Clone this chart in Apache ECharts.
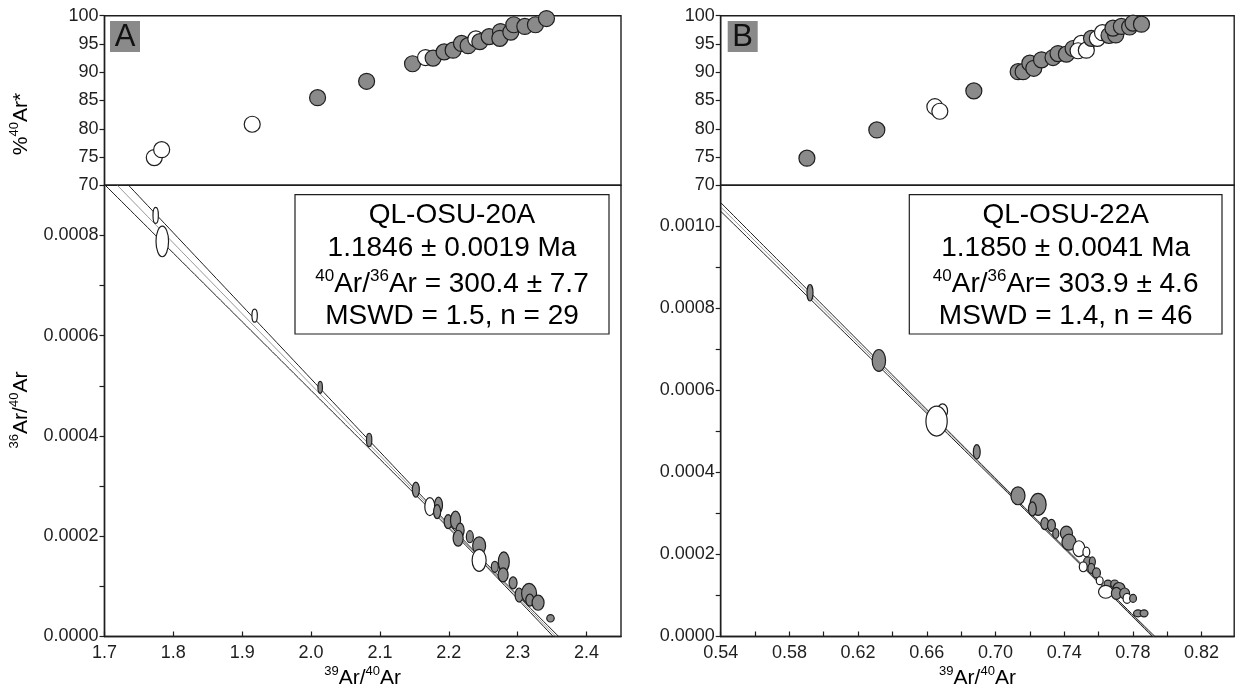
<!DOCTYPE html>
<html>
<head>
<meta charset="utf-8">
<script src="https://cdn.jsdelivr.net/npm/echarts@6/dist/echarts.min.js"></script>
<style>
  html, body { margin: 0; padding: 0; background: #fff; }
  #chart { width: 1237px; height: 690px; }
</style>
</head>
<body>
<div id="chart"></div>
<script>
// ---------- QL-OSU-20A (panel A) ----------
// step data: 39Ar/40Ar vs %40Ar* (1 = accepted step, grey; 0 = excluded, white)
const aStepX = [1.7723, 1.7830, 1.9145, 2.0094, 2.0806, 2.1473, 2.1662, 2.1772, 2.1932, 2.2062, 2.2184,
                2.2280, 2.2392, 2.2450, 2.2585, 2.2750, 2.2740, 2.2900, 2.2943, 2.3103, 2.3258, 2.3418];
const aStepPct = [74.9, 76.3, 80.8, 85.5, 88.4, 91.5, 92.6, 92.5, 93.6, 93.9, 95.1,
                  94.7, 95.9, 95.4, 96.3, 97.2, 96.0, 97.1, 98.4, 98.1, 98.4, 99.5];
const aStepUsed = [0, 0, 0, 1, 1, 1, 0, 1, 1, 1, 1, 1, 0, 1, 1, 1, 1, 1, 1, 1, 1, 1];

// inverse isochron: 39Ar/40Ar, 36Ar/40Ar and their error half-widths
const aIsoX = [1.7743, 1.7839, 1.9180, 2.0132, 2.0843, 2.1521, 2.1724, 2.1850, 2.1830, 2.1990, 2.2097, 2.2164,
               2.2135, 2.2305, 2.2440, 2.2440, 2.2668, 2.2798, 2.2788, 2.2933, 2.3020, 2.3165, 2.3176, 2.3296, 2.3476];
const aIsoY = [0.000840, 0.000788, 0.000640, 0.000497, 0.000392, 0.000293, 0.000259, 0.000262, 0.000249, 0.000229,
               0.000232, 0.000212, 0.000196, 0.000199, 0.000181, 0.000152, 0.000139, 0.000149, 0.000123, 0.000107,
               0.0000827, 0.0000861, 0.0000727, 0.0000674, 0.0000363];
const aIsoEx = [0.0039, 0.0091, 0.0039, 0.0033, 0.0039, 0.0051, 0.0073, 0.0058, 0.0051, 0.0058, 0.0073, 0.0058,
                0.0073, 0.0051, 0.0094, 0.0102, 0.0051, 0.0080, 0.0073, 0.0058, 0.0058, 0.0109, 0.0058, 0.0087, 0.0054];
const aIsoEy = [0.0000159, 0.0000305, 0.0000130, 0.0000120, 0.0000134, 0.0000150, 0.0000179, 0.0000159, 0.0000140,
                0.0000140, 0.0000179, 0.0000140, 0.0000159, 0.0000120, 0.0000179, 0.0000219, 0.0000110, 0.0000199,
                0.0000140, 0.0000120, 0.0000140, 0.0000199, 0.0000120, 0.0000150, 0.0000074];
const aIsoUsed = [0, 0, 0, 1, 1, 1, 0, 1, 1, 1, 1, 1, 1, 1, 1, 0, 1, 1, 1, 1, 1, 1, 1, 1, 1];

// isochron fit: trapped 40Ar/36Ar, 39Ar/40Ar intercept; envelope: min half-width, slope error, centroid
const aFit = [300.4, 2.3554];
const aEnvelope = [0.000003, 0.0000445, 2.25];
const aLabel = ['QL-OSU-20A', '1.1846 ± 0.0019 Ma', ' = 300.4 ± 7.7', 'MSWD = 1.5, n = 29'];

// ---------- QL-OSU-22A (panel B) ----------
const bStepX = [0.5902, 0.6309, 0.6647, 0.6676, 0.6874, 0.7132, 0.7161, 0.7200, 0.7223, 0.7268, 0.7335, 0.7364, 0.7413,
                0.7452, 0.7500, 0.7481, 0.7529, 0.7559, 0.7593, 0.7623, 0.7661, 0.7700, 0.7684, 0.7733, 0.7781, 0.7801, 0.7850];
const bStepPct = [74.8, 79.8, 83.9, 83.1, 86.7, 90.1, 90.1, 91.6, 90.7, 92.2, 92.6, 93.3, 93.2,
                  94.2, 95.1, 93.8, 93.9, 96.0, 96.0, 97.0, 96.5, 96.6, 97.8, 98.1, 98.0, 98.7, 98.5];
const bStepUsed = [1, 1, 0, 0, 1, 1, 1, 1, 1, 1, 1, 1, 1, 1, 0, 0, 0, 1, 0, 0, 1, 1, 1, 1, 1, 1, 1];

const bIsoX = [0.5920, 0.6321, 0.6692, 0.6657, 0.6891, 0.7131, 0.7248, 0.7215, 0.7287, 0.7326, 0.7351, 0.7413, 0.7428,
               0.7486, 0.7529, 0.7539, 0.7564, 0.7511, 0.7558, 0.7588, 0.7607, 0.7655, 0.7694, 0.7719, 0.7642, 0.7704,
               0.7752, 0.7766, 0.7801, 0.7830, 0.7865];
const bIsoY = [0.000838, 0.000673, 0.000550, 0.000525, 0.000450, 0.000343, 0.000322, 0.000311, 0.000275, 0.000271,
               0.000251, 0.000252, 0.000230, 0.000214, 0.000206, 0.000182, 0.000182, 0.000170, 0.000166, 0.000155,
               0.000136, 0.000129, 0.000128, 0.000117, 0.000109, 0.000105, 0.000105, 0.0000929, 0.0000929,
               0.0000565, 0.0000565];
const bIsoEx = [0.00175, 0.0039, 0.0029, 0.0062, 0.0020, 0.0041, 0.0047, 0.0023, 0.0023, 0.0023, 0.00175, 0.0035, 0.0041,
                0.0035, 0.0020, 0.0026, 0.00175, 0.0023, 0.0020, 0.0023, 0.0020, 0.0023, 0.0023, 0.0035, 0.0042, 0.0029,
                0.0029, 0.0023, 0.0020, 0.0026, 0.0023];
const bIsoEy = [0.0000201, 0.0000267, 0.0000170, 0.0000364, 0.0000177, 0.0000218, 0.0000267, 0.0000170, 0.0000146,
                0.0000146, 0.0000121, 0.0000170, 0.0000194, 0.0000194, 0.0000121, 0.0000121, 0.0000121, 0.0000121,
                0.0000121, 0.0000121, 0.0000097, 0.0000085, 0.0000097, 0.0000146, 0.0000158, 0.0000146, 0.0000133,
                0.0000121, 0.0000097, 0.0000085, 0.0000085];
const bIsoUsed = [1, 1, 0, 0, 1, 1, 1, 1, 1, 1, 1, 1, 1, 0, 0, 1, 1, 0, 1, 1, 0, 1, 1, 1, 0, 1, 1, 0, 1, 1, 1];

const bFit = [303.9, 0.7921];
const bEnvelope = [0.000002, 0.0000505, 0.745];
const bLabel = ['QL-OSU-22A', '1.1850 ± 0.0041 Ma', '= 303.9 ± 4.6', 'MSWD = 1.4, n = 46'];

// ---------- tick values ----------
const pctTicks = [70, 75, 80, 85, 90, 95, 100];
const aXLabels = [1.7, 1.8, 1.9, 2.0, 2.1, 2.2, 2.3, 2.4];
const aYLabels = [0, 0.0002, 0.0004, 0.0006, 0.0008];
const aYTicks = [0, 0.0001, 0.0002, 0.0003, 0.0004, 0.0005, 0.0006, 0.0007, 0.0008];
const bXLabels = [0.54, 0.58, 0.62, 0.66, 0.70, 0.74, 0.78, 0.82];
const bXTicks = [0.54, 0.56, 0.58, 0.60, 0.62, 0.64, 0.66, 0.68, 0.70, 0.72, 0.74, 0.76, 0.78, 0.80, 0.82];
const bYLabels = [0, 0.0002, 0.0004, 0.0006, 0.0008, 0.0010];
const bYTicks = [0, 0.0001, 0.0002, 0.0003, 0.0004, 0.0005, 0.0006, 0.0007, 0.0008, 0.0009, 0.0010];

// ---------- styling ----------
const FONT = "'Liberation Sans', Arial, Helvetica, sans-serif";
const INK = '#1e1e1e';
const GREY = '#8a8a8a';

const A_X = [1.7, 2.45];
const B_X = [0.54, 0.839];

const chart = echarts.init(document.getElementById('chart'), null, { renderer: 'canvas' });

function stepData(xs, ps, used) {
  return xs.map((x, i) => ({ value: [x, ps[i]], itemStyle: { color: used[i] ? GREY : '#fff' } }));
}
function isoData(xs, ys, ex, ey, used) {
  return xs.map((x, i) => [x, ys[i], ex[i], ey[i], used[i]]);
}
// straight isochron line and its hyperbolic error envelope
function fitLine(fit, env, range, sign) {
  const a = 1 / fit[0];
  const b = -a / fit[1];
  const pts = [];
  const n = 120;
  for (let i = 0; i <= n; i++) {
    const x = range[0] + (range[1] - range[0]) * i / n;
    const dx = x - env[2];
    const w = Math.sqrt(env[0] * env[0] + dx * dx * env[1] * env[1]);
    pts.push([x, a + b * x + sign * w]);
  }
  return pts;
}
function ellipseItem(params, api) {
  const x = api.value(0), y = api.value(1);
  const c = api.coord([x, y]);
  const s = api.size([api.value(2), api.value(3)], [x, y]);
  return {
    type: 'ellipse',
    shape: { cx: c[0], cy: c[1], rx: s[0], ry: s[1] },
    style: { fill: api.value(4) ? GREY : '#fff', stroke: INK, lineWidth: 1.2 }
  };
}

const gridBase = { show: true, borderColor: INK, borderWidth: 1.4, backgroundColor: 'transparent', outerBoundsMode: 'none' };
const grids = [
  Object.assign({ left: 104.5, top: 15.7, width: 516.5, height: 169.6 }, gridBase),
  Object.assign({ left: 104.5, top: 185.3, width: 516.5, height: 451.2 }, gridBase),
  Object.assign({ left: 720.7, top: 15.7, width: 513.5, height: 169.6 }, gridBase),
  Object.assign({ left: 720.7, top: 185.3, width: 513.5, height: 451.2 }, gridBase)
];

const labelStyle = { color: INK, fontFamily: FONT, fontSize: 18 };

function hiddenX(grid, range) {
  return { type: 'value', gridIndex: grid, min: range[0], max: range[1], show: false };
}
function shownX(grid, range, ticks, labels, digits) {
  return {
    type: 'value', gridIndex: grid, min: range[0], max: range[1],
    axisLine: { show: true, lineStyle: { color: INK, width: 1.4 } },
    axisTick: { show: true, inside: true, length: 5, customValues: ticks, lineStyle: { color: INK, width: 1.2 } },
    axisLabel: Object.assign({ customValues: labels, margin: 8, formatter: v => v.toFixed(digits) }, labelStyle),
    splitLine: { show: false }
  };
}
function shownY(grid, min, max, ticks, labels, digits) {
  return {
    type: 'value', gridIndex: grid, min: min, max: max,
    axisLine: { show: true, lineStyle: { color: INK, width: 1.4 } },
    axisTick: { show: true, inside: false, length: 5, customValues: ticks, lineStyle: { color: INK, width: 1.2 } },
    axisLabel: Object.assign({ customValues: labels, margin: 6, formatter: v => v.toFixed(digits) }, labelStyle),
    splitLine: { show: false }
  };
}

function panelSeries(xi, stepX, stepPct, stepUsed, isoX, isoY, isoEx, isoEy, isoUsed, fit, env, range) {
  const lineBase = { type: 'line', xAxisIndex: xi + 1, yAxisIndex: xi + 1, showSymbol: false, symbol: 'none',
                     clip: true, silent: true, z: 2, animation: false };
  return [
    { type: 'scatter', xAxisIndex: xi, yAxisIndex: xi, symbol: 'circle', symbolSize: 16, z: 3,
      itemStyle: { borderColor: INK, borderWidth: 1.2, opacity: 1 },
      data: stepData(stepX, stepPct, stepUsed), animation: false },
    Object.assign({ data: fitLine(fit, env, range, 1), lineStyle: { color: INK, width: 1 } }, lineBase),
    Object.assign({ data: fitLine(fit, env, range, -1), lineStyle: { color: INK, width: 1 } }, lineBase),
    Object.assign({ data: fitLine(fit, [0, 0, env[2]], range, 0), lineStyle: { color: '#6a6a6a', width: 0.7 } }, lineBase),
    { type: 'custom', xAxisIndex: xi + 1, yAxisIndex: xi + 1, renderItem: ellipseItem, z: 4, clip: true,
      encode: { x: 0, y: 1 }, data: isoData(isoX, isoY, isoEx, isoEy, isoUsed), animation: false }
  ];
}

const richAxis = {
  m: { fontFamily: FONT, fontSize: 21, color: INK, lineHeight: 24, verticalAlign: 'bottom' },
  s: { fontFamily: FONT, fontSize: 13, color: INK, lineHeight: 14, verticalAlign: 'top' }
};
const richBox = {
  m: { fontFamily: FONT, fontSize: 28, color: INK, lineHeight: 30, verticalAlign: 'bottom' },
  s: { fontFamily: FONT, fontSize: 17, color: INK, lineHeight: 17, verticalAlign: 'top' }
};

function infoBox(left, right, lines) {
  const cx = (left + right) / 2;
  const ys = [214, 247, 283, 315];
  const texts = [
    '{m|' + lines[0] + '}',
    '{m|' + lines[1] + '}',
    '{s|40}{m|Ar/}{s|36}{m|Ar' + lines[2] + '}',
    '{m|' + lines[3] + '}'
  ];
  const els = [{
    type: 'rect', shape: { x: left, y: 194.7, width: right - left, height: 139.3 },
    style: { fill: '#fff', stroke: INK, lineWidth: 1.2 }, z: 10
  }];
  texts.forEach((t, i) => els.push({
    type: 'text', x: cx, y: ys[i], z: 11,
    style: { text: t, rich: richBox, align: 'center', verticalAlign: 'middle' }
  }));
  return els;
}
function panelTag(x, letter) {
  return [
    { type: 'rect', shape: { x: x, y: 21, width: 30, height: 31 }, style: { fill: GREY }, z: 10 },
    { type: 'text', x: x + 15, y: 37.5, z: 11,
      style: { text: letter, fontFamily: FONT, fontSize: 31, fill: '#111', align: 'center', verticalAlign: 'middle' } }
  ];
}
function axisTitle(x, y, text, rot) {
  return { type: 'text', x: x, y: y, rotation: rot, z: 11,
           style: { text: text, rich: richAxis, align: 'center', verticalAlign: 'middle' } };
}

const graphics = []
  .concat(infoBox(295, 609, aLabel))
  .concat(infoBox(909.3, 1222, bLabel))
  .concat(panelTag(110, 'A'))
  .concat(panelTag(727.7, 'B'))
  .concat([
    axisTitle(20, 124, '{m|%}{s|40}{m|Ar*}', Math.PI / 2),
    axisTitle(20, 410, '{s|36}{m|Ar/}{s|40}{m|Ar}', Math.PI / 2),
    axisTitle(362.7, 677, '{s|39}{m|Ar/}{s|40}{m|Ar}', 0),
    axisTitle(977.5, 677, '{s|39}{m|Ar/}{s|40}{m|Ar}', 0)
  ]);

chart.setOption({
  animation: false,
  backgroundColor: '#fff',
  grid: grids,
  xAxis: [
    hiddenX(0, A_X),
    shownX(1, A_X, aXLabels, aXLabels, 1),
    hiddenX(2, B_X),
    shownX(3, B_X, bXTicks, bXLabels, 2)
  ],
  yAxis: [
    shownY(0, 70, 100, pctTicks, pctTicks, 0),
    shownY(1, 0, 0.0009, aYTicks, aYLabels, 4),
    shownY(2, 70, 100, pctTicks, pctTicks, 0),
    shownY(3, 0, 0.0011, bYTicks, bYLabels, 4)
  ],
  series: []
    .concat(panelSeries(0, aStepX, aStepPct, aStepUsed, aIsoX, aIsoY, aIsoEx, aIsoEy, aIsoUsed, aFit, aEnvelope, A_X))
    .concat(panelSeries(2, bStepX, bStepPct, bStepUsed, bIsoX, bIsoY, bIsoEx, bIsoEy, bIsoUsed, bFit, bEnvelope, B_X)),
  graphic: graphics
});
</script>
</body>
</html>
